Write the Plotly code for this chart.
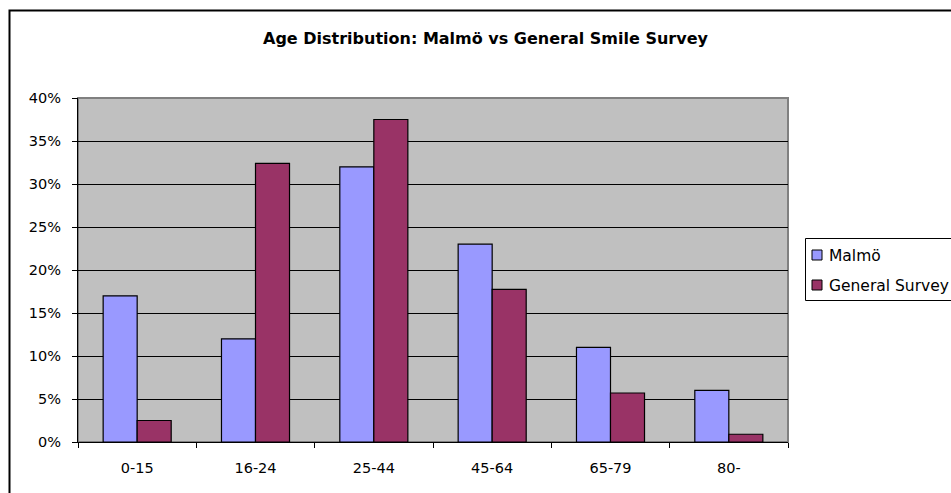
import plotly.graph_objects as go

# Age groups and the share of respondents in each (fractions)
age_groups = ["0-15", "16-24", "25-44", "45-64", "65-79", "80-"]
malmo_share = [0.17, 0.12, 0.32, 0.23, 0.11, 0.06]
general_share = [0.025, 0.324, 0.375, 0.1775, 0.057, 0.009]
series_names = ["Malmö", "General Survey"]
series_colors = ["#9999FF", "#993366"]

W, H = 951, 493
L, R, T, B = 78, 163, 98, 51
pw, ph = W - L - R, H - T - B


def px_x(x):
    return (x - L) / pw


def px_y(y):
    return (H - B - y) / ph


fig = go.Figure()
for name, vals, col in zip(series_names, [malmo_share, general_share], series_colors):
    fig.add_trace(go.Bar(
        x=age_groups, y=vals, name=name,
        marker=dict(color=col, line=dict(color="black", width=1.2)),
        showlegend=False,
    ))

font = "'DejaVu Sans', Arial, sans-serif"

shapes = [
    # outer chart frame
    dict(type="rect", xref="paper", yref="paper",
         x0=px_x(9.5), x1=px_x(965), y0=px_y(505), y1=px_y(10.5),
         line=dict(color="black", width=2), layer="below"),
    # plot area frame (top/right in grey)
    dict(type="rect", xref="paper", yref="paper", x0=0, x1=1, y0=0, y1=1,
         line=dict(color="#808080", width=2), layer="below"),
    # legend box
    dict(type="rect", xref="paper", yref="paper",
         x0=px_x(805.5), x1=px_x(965), y0=px_y(300.5), y1=px_y(238.5),
         line=dict(color="black", width=1), fillcolor="white"),
]
annotations = [
    dict(text="<b>Age Distribution: Malmö vs General Smile Survey</b>",
         xref="paper", yref="paper", x=px_x(486), y=px_y(39),
         xanchor="center", yanchor="middle", showarrow=False,
         font=dict(family=font, size=16, color="black")),
]
for i, (name, col) in enumerate(zip(series_names, series_colors)):
    cy = 255 + i * 30
    shapes.append(dict(type="rect", xref="paper", yref="paper",
                       x0=px_x(812), x1=px_x(822), y0=px_y(cy + 5), y1=px_y(cy - 5),
                       fillcolor=col, line=dict(color="black", width=1)))
    annotations.append(dict(text=name, xref="paper", yref="paper",
                            x=px_x(827), y=px_y(cy + 1), xanchor="left", yanchor="middle",
                            showarrow=False,
                            font=dict(family=font, size=15.5, color="black")))

fig.update_layout(
    width=W, height=H,
    margin=dict(l=L, r=R, t=T, b=B, autoexpand=False),
    paper_bgcolor="white", plot_bgcolor="#C0C0C0",
    barmode="group", bargap=0.425, bargroupgap=0,
    font=dict(family=font, size=14, color="black"),
    shapes=shapes, annotations=annotations,
    showlegend=False,
)
fig.update_xaxes(
    showgrid=False, showline=True, linecolor="black", linewidth=1,
    ticks="outside", tickson="boundaries", ticklen=5, tickcolor="black",
    tickfont=dict(family=font, size=14.5), zeroline=False,
    ticklabelstandoff=13,
)
fig.update_yaxes(
    range=[0, 0.40], dtick=0.05, tickformat=".0%",
    showgrid=True, gridcolor="black", gridwidth=1,
    showline=True, linecolor="black", linewidth=1,
    ticks="outside", ticklen=5, tickcolor="black",
    tickfont=dict(family=font, size=14.5), zeroline=False,
    ticklabelstandoff=8,
)

fig.write_html("out.html")
